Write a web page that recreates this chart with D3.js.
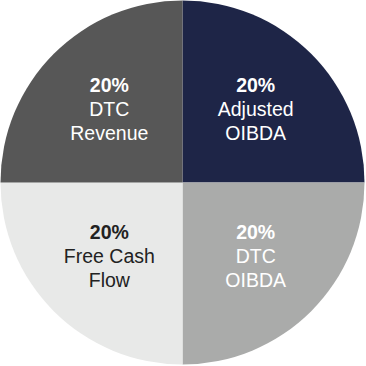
<!DOCTYPE html>
<html>
<head>
<meta charset="utf-8">
<script src="https://cdn.jsdelivr.net/npm/d3@7"></script>
<style>
  body { margin: 0; background: #fff; }
  svg { display: block; }
</style>
</head>
<body>
<script>
// Data
const labels = [["Adjusted", "OIBDA"], ["DTC", "OIBDA"], ["Free Cash", "Flow"], ["DTC", "Revenue"]];
const values = [20, 20, 20, 20];
const colors = ["#1e2547", "#aaabaa", "#e8e9e8", "#575757"];
const textColors = ["#ffffff", "#ffffff", "#222222", "#ffffff"];

const width = 366, height = 366;
const cx = 182.5, cy = 182.5, radius = 182;

let svg = d3.select("body")
    .append("svg")
    .attr("width", width)
    .attr("height", height);

let g = svg.append("g")
    .attr("transform", `translate(${cx},${cy})`);

let pie = d3.pie().sort(null).value(d => d);
let arcs = pie(values);

let arc = d3.arc().innerRadius(0).outerRadius(radius);
// centroid sits at half of this radius
let labelArc = d3.arc().innerRadius(0).outerRadius(207);

// Slices
g.selectAll("path")
    .data(arcs)
    .enter()
    .append("path")
    .attr("d", arc)
    .attr("fill", (d, i) => colors[i]);

// Labels
let lbl = g.selectAll("text")
    .data(arcs)
    .enter()
    .append("text")
    .attr("transform", d => `translate(${labelArc.centroid(d)})`)
    .attr("text-anchor", "middle")
    .style("font-family", "'Liberation Sans', Arial, sans-serif")
    .style("font-size", "19.5px")
    .attr("fill", (d, i) => textColors[i]);

lbl.append("tspan")
    .attr("x", 0)
    .attr("y", -17)
    .style("font-weight", "bold")
    .text(d => `${d.data}%`);

lbl.append("tspan")
    .attr("x", 0)
    .attr("y", 7)
    .text((d, i) => labels[i][0]);

lbl.append("tspan")
    .attr("x", 0)
    .attr("y", 31)
    .text((d, i) => labels[i][1]);
</script>
</body>
</html>
